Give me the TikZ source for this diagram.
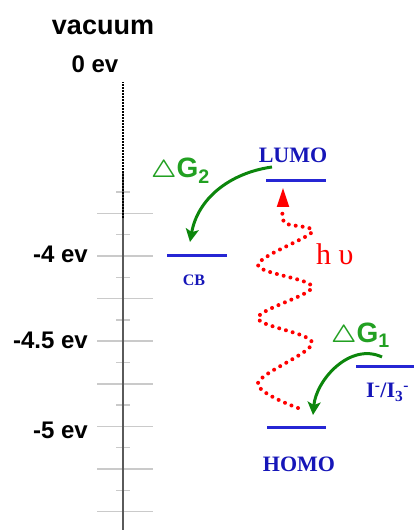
\documentclass[tikz,border=0pt]{standalone}
\usepackage{bm}
\usepackage{fontspec}
\setmainfont{Liberation Serif}
\setsansfont{Liberation Sans}
\usepackage{xcolor}
\usetikzlibrary{arrows.meta}
\definecolor{LevelBlue}{HTML}{2626D4}
\definecolor{LabelBlue}{HTML}{1616B8}
\definecolor{DeltaGreen}{HTML}{22A022}
\definecolor{ArrowGreen}{HTML}{0C860C}
\definecolor{TickGray}{HTML}{CACACA}
\definecolor{AxisGray}{HTML}{5A5A5A}

\begin{document}
\begin{tikzpicture}[
  x=1pt,y=1pt,
  axislbl/.style={font=\sffamily\bfseries\fontsize{24}{28}\selectfont,inner sep=0pt},
  lvl/.style={draw=LevelBlue,line width=3pt},
  lvllbl/.style={text=LabelBlue,font=\bfseries\fontsize{22}{26}\selectfont,inner sep=0pt},
  dglbl/.style={text=DeltaGreen,font=\sffamily\bfseries\fontsize{28}{32}\selectfont,inner sep=0pt},
  garr/.style={draw=ArrowGreen,line width=3pt,-{Stealth[length=13pt,width=13pt,inset=3pt]}},
  wave/.style={draw=red,line width=4pt,line cap=round,dash pattern=on 0pt off 7pt},
  rtip/.style={draw=red,line width=2pt,-{Triangle[length=19pt,width=12pt]}},
  tick/.style={draw=TickGray,line width=1.5pt}
]
  \useasboundingbox (0,0) rectangle (414,530);
  \foreach \k in {-6,...,1}{
    \draw[tick] (97,274+\k*42.6) -- (153,274+\k*42.6);
    \draw[tick] (116,295.3+\k*42.6) -- (130,295.3+\k*42.6);
  }
  \coordinate (axbot) at (123,0);
  \coordinate (axmid) at (123,358);
  \coordinate (dotbot) at (123,312);
  \coordinate (dottop) at (123,448);
  \draw[AxisGray,line width=1.6pt] (axbot) -- (axmid);
  \draw[black,line width=2pt,dash pattern=on 1.5pt off 1.5pt] (dotbot) -- (dottop);

  \node[axislbl,font=\sffamily\bfseries\fontsize{27}{30}\selectfont,anchor=base] (vac) at (103,495) {vacuum};
  \node[axislbl] (e0) at (95,465.5) {0 ev};
  \node[axislbl,anchor=east] (e4) at (88,276) {-4 ev};
  \node[axislbl,anchor=east] (e45) at (88,189.5) {-4.5 ev};
  \node[axislbl,anchor=east] (e5) at (88,100) {-5 ev};

  \coordinate (cbL) at (167,274);
  \coordinate (cbR) at (227,274);
  \coordinate (lumoL) at (266,349);
  \coordinate (lumoR) at (326,349);
  \coordinate (homoL) at (267,102);
  \coordinate (homoR) at (326,102);
  \coordinate (redL) at (356,163);
  \coordinate (redR) at (420,163);
  \draw[lvl] (cbL) -- (cbR);
  \draw[lvl] (lumoL) -- (lumoR);
  \draw[lvl] (homoL) -- (homoR);
  \draw[lvl] (redL) -- (redR);

  \node[lvllbl,font=\bfseries\fontsize{16}{19}\selectfont] (cb) at (194,250) {CB};
  \node[lvllbl] (lumo) at (293,374.5) {LUMO};
  \node[lvllbl] (homo) at (299,65.5) {HOMO};
  \node[lvllbl,anchor=base west] (redox) at (366,132) {I\textsuperscript{-}/I\textsubscript{3}\textsuperscript{-}};

  \node[dglbl,anchor=base west] (dg2) at (151,352) {$\bm{\triangle}$G\textsubscript{2}};
  \node[dglbl,anchor=base west] (dg1) at (331,187) {$\bm{\triangle}$G\textsubscript{1}};
  \node[text=red,font=\fontsize{30}{34}\selectfont,inner sep=0pt,anchor=base west] (hv) at (316,265) {h υ};

  \coordinate (g2s) at (272,363);
  \coordinate (g2e) at (190,288);
  \coordinate (g1s) at (382,173);
  \coordinate (g1e) at (313,115);
  \draw[garr] (g2s) to[out=188,in=80] (g2e);
  \draw[garr] (g1s) to[out=155,in=85] (g1e);

  \coordinate (ws) at (298,122);
  \coordinate (we) at (283,323);
  \coordinate (wtip) at (283,342);
  \draw[wave] plot[smooth,tension=0.55] coordinates {(ws) (258,147) (312,187) (258,212) (312,243) (258,265) (312,298) (285,307) (we)};
  \draw[rtip] (we) -- (wtip);
\end{tikzpicture}
\end{document}
